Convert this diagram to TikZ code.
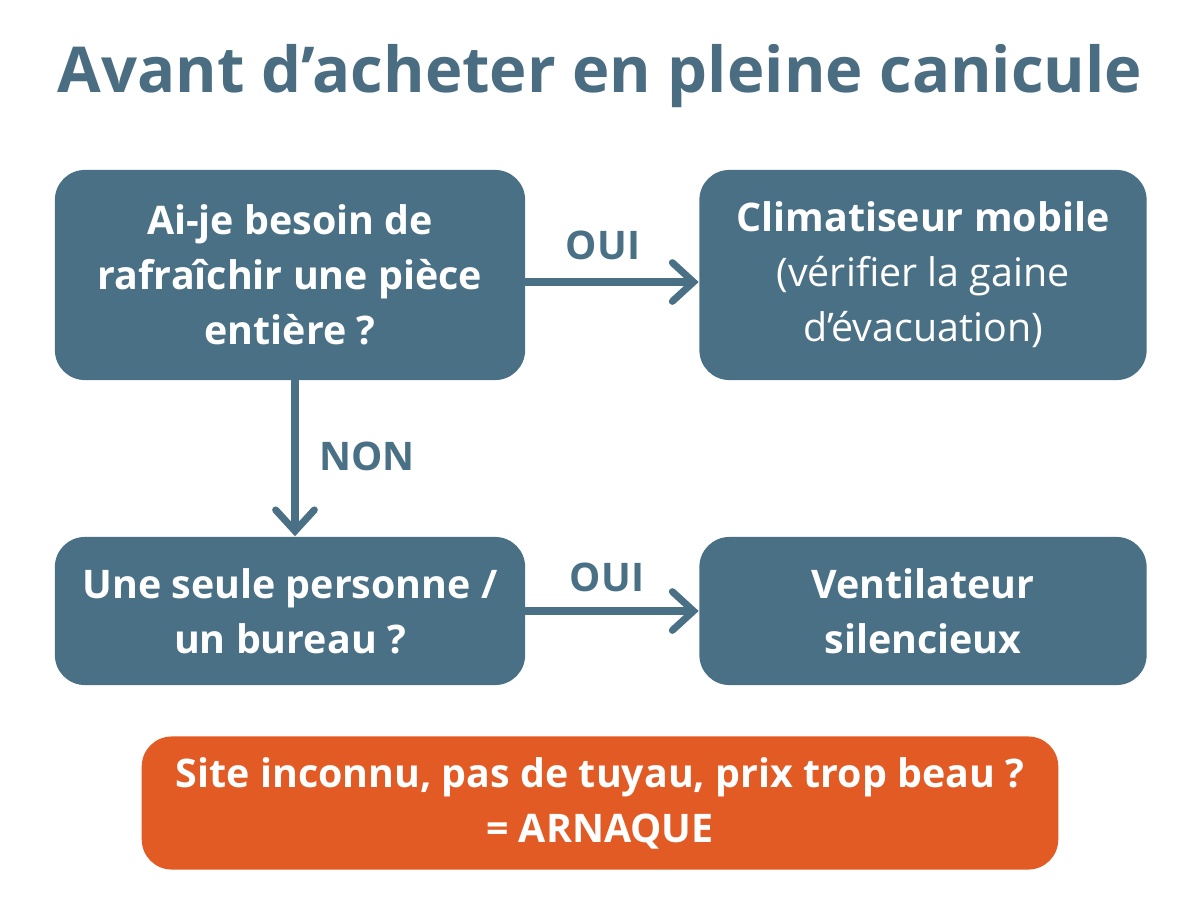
\documentclass[tikz,border=0pt]{standalone}
\usepackage{fontspec}
\setmainfont{Open Sans}
\usetikzlibrary{arrows.meta, positioning}
\definecolor{slateblue}{HTML}{4A7086}
\definecolor{titleblue}{HTML}{4A6D82}
\definecolor{warnorange}{HTML}{E25A24}

\begin{document}
\begin{tikzpicture}[x=0.01cm, y=-0.01cm,
  box/.style={fill=slateblue, text=white, rounded corners=0.3cm, align=center,
    font=\fontsize{11.2}{15.6}\selectfont\bfseries, inner sep=0pt},
  flow/.style={slateblue, line width=2pt, line cap=round,
    -{Straight Barb[length=6pt, width=11pt, line width=2pt, line cap=round]}},
  lab/.style={text=slateblue, font=\fontsize{11.2}{13}\selectfont\bfseries}]
  \useasboundingbox[fill=white] (0,0) rectangle (1200,900);
  \node[text=titleblue, font=\fontsize{18}{22}\selectfont\bfseries, anchor=base]
    (title) at (600,92) {Avant d’acheter en pleine canicule};
  % questions on the left, answers on the right
  \node[box, minimum width=4.7cm, minimum height=2.1cm] (besoin) at (290,275)
    {Ai-je besoin de\\ rafraîchir une pièce\\ entière ?};
  \node[box, minimum width=4.47cm, minimum height=2.1cm] (clim) at (923,275)
    {Climatiseur mobile\\ {\mdseries (vérifier la gaine}\\ {\mdseries d’évacuation)}};
  \node[box, minimum width=4.7cm, minimum height=1.48cm] (seul) at (290,611)
    {Une seule personne /\\ un bureau ?};
  \node[box, minimum width=4.47cm, minimum height=1.48cm] (ventil) at (923,611)
    {Ventilateur\\ silencieux};
  \node[box, fill=warnorange, minimum width=9.16cm, minimum height=1.33cm]
    (arnaque) at (600,803) {Site inconnu, pas de tuyau, prix trop beau ?\\ = ARNAQUE};
  \draw[flow] ([yshift=-0.07cm]besoin.east) -- ([yshift=-0.07cm]clim.west);
  \draw[flow] ([xshift=0.05cm]besoin.south) -- ([xshift=0.05cm]seul.north);
  \draw[flow] (seul.east) -- (ventil.west);
  \node[lab] (oui1) at (603,245) {OUI};
  \node[lab] (non) at (367,456) {NON};
  \node[lab] (oui2) at (607,577) {OUI};
\end{tikzpicture}
\end{document}
